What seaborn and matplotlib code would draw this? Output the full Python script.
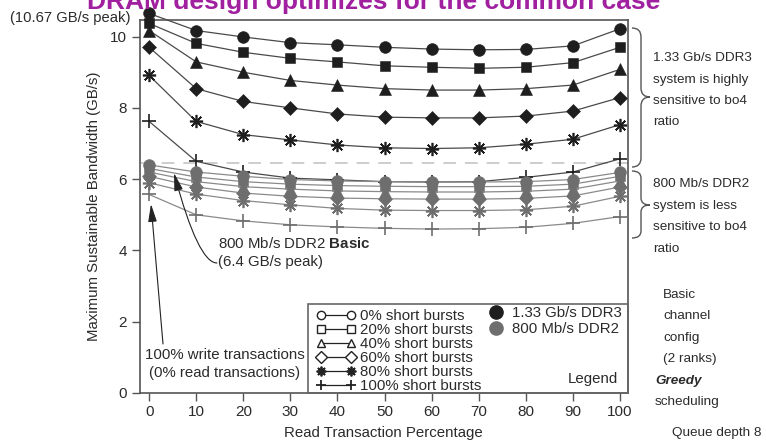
import matplotlib
matplotlib.use("Agg")
import matplotlib.pyplot as plt
from matplotlib.lines import Line2D
from matplotlib.patches import Rectangle, PathPatch
from matplotlib.path import Path
import seaborn as sns

# ---------------- data ----------------
read_pct = [0, 10, 20, 30, 40, 50, 60, 70, 80, 90, 100]

ddr3_0 = [10.65, 10.17, 9.99, 9.83, 9.77, 9.70, 9.65, 9.63, 9.64, 9.74, 10.22]
ddr3_20 = [10.37, 9.81, 9.56, 9.39, 9.29, 9.18, 9.14, 9.11, 9.14, 9.27, 9.70]
ddr3_40 = [10.17, 9.29, 9.00, 8.77, 8.64, 8.54, 8.50, 8.50, 8.54, 8.64, 9.08]
ddr3_60 = [9.70, 8.54, 8.18, 8.00, 7.83, 7.74, 7.72, 7.72, 7.77, 7.91, 8.29]
ddr3_80 = [8.91, 7.62, 7.25, 7.10, 6.96, 6.88, 6.86, 6.88, 6.98, 7.12, 7.53]
ddr3_100 = [7.62, 6.50, 6.20, 6.03, 5.98, 5.93, 5.92, 5.93, 6.05, 6.20, 6.57]

ddr2_0 = [6.40, 6.20, 6.08, 5.99, 5.95, 5.93, 5.92, 5.92, 5.93, 5.99, 6.19]
ddr2_20 = [6.30, 6.06, 5.93, 5.86, 5.82, 5.80, 5.79, 5.79, 5.80, 5.86, 6.08]
ddr2_40 = [6.20, 5.93, 5.79, 5.72, 5.67, 5.65, 5.64, 5.64, 5.66, 5.72, 5.95]
ddr2_60 = [6.08, 5.78, 5.61, 5.52, 5.47, 5.45, 5.44, 5.44, 5.46, 5.53, 5.78]
ddr2_80 = [5.90, 5.58, 5.40, 5.28, 5.18, 5.13, 5.12, 5.12, 5.14, 5.24, 5.52]
ddr2_100 = [5.57, 5.00, 4.83, 4.72, 4.66, 4.62, 4.60, 4.61, 4.65, 4.76, 4.95]

ddr2_peak_line = 6.45

burst_labels = ["0% short bursts", "20% short bursts", "40% short bursts",
                "60% short bursts", "80% short bursts", "100% short bursts"]
system_labels = ["1.33 Gb/s DDR3", "800 Mb/s DDR2"]
xticks = [0, 10, 20, 30, 40, 50, 60, 70, 80, 90, 100]
yticks = [0, 2, 4, 6, 8, 10]

title_text = "DRAM design optimizes for the common case"
xlabel_text = "Read Transaction Percentage"
ylabel_text = "Maximum Sustainable Bandwidth (GB/s)"

# ---------------- style ----------------
W, H = 766, 441
sns.set_theme(style="ticks")
plt.rcParams["font.family"] = ["Liberation Sans", "DejaVu Sans"]
plt.rcParams["mathtext.fontset"] = "custom"
plt.rcParams["mathtext.rm"] = "Liberation Sans"
plt.rcParams["mathtext.bf"] = "Liberation Sans:bold"
plt.rcParams["mathtext.it"] = "Liberation Sans:italic"

TXT = "#2b2b2b"
SPINE = "#555555"


def P(x, y):
    return (x / W, 1 - y / H)


fig = plt.figure(figsize=(W / 100, H / 100), dpi=100)
ax_l, ax_r, ax_t, ax_b = 139.5, 628.0, 19.5, 393.0
ax = fig.add_axes([ax_l / W, 1 - ax_b / H, (ax_r - ax_l) / W, (ax_b - ax_t) / H])

markers = ["o", "s", "^", "D", (8, 2, 0), "+"]
msizes = [8.5, 7.5, 8.5, 7, 9.5, 9.5]

ax.axhline(ddr2_peak_line, color="#c9c9c9", lw=1.3, dashes=(7, 5), zorder=1)

groups = [
    ([ddr3_0, ddr3_20, ddr3_40, ddr3_60, ddr3_80, ddr3_100], "#1e1e1e", "#4a4a4a", 3),
    ([ddr2_0, ddr2_20, ddr2_40, ddr2_60, ddr2_80, ddr2_100], "#6e6e6e", "#8a8a8a", 4),
]
for series, mcol, lcol, z in groups:
    for vals, mk, ms in zip(series, markers, msizes):
        lineart = mk in ("+",) or isinstance(mk, tuple)
        sns.lineplot(x=read_pct, y=vals, ax=ax, color=lcol, lw=0.9,
                     marker=mk, markersize=ms, markerfacecolor=mcol,
                     markeredgecolor=mcol,
                     markeredgewidth=1.2 if lineart else 0.4,
                     errorbar=None, clip_on=False, zorder=z, legend=False)

ax.set_xlim(-2.05, 101.7)
ax.set_ylim(0, 10.48)
ax.set_xticks(xticks)
ax.set_yticks(yticks)
ax.tick_params(axis="both", length=6, width=1, color=SPINE, labelsize=11,
               labelcolor=TXT, pad=3)
for sp in ax.spines.values():
    sp.set_visible(True)
    sp.set_color(SPINE)
    sp.set_linewidth(1.2)

ax.set_xlabel(xlabel_text, fontsize=10.8, color=TXT)
ax.set_ylabel(ylabel_text, fontsize=10.8, color=TXT)
ax.xaxis.set_label_coords(0.5, -0.088)
ax.yaxis.set_label_coords(-0.078, 0.5)

# ---------------- legend ----------------
def ax_frac(x, y):
    return ((x - ax_l) / (ax_r - ax_l), (ax_b - y) / (ax_b - ax_t))


lx, ly = ax_frac(308, 304)
ax.add_patch(Rectangle((lx, 0), 1 - lx, ly, transform=ax.transAxes, fill=False,
                       edgecolor="#666666", lw=1.2, clip_on=False, zorder=6))

h1 = []
for mk in markers:
    lineart = mk in ("+",) or isinstance(mk, tuple)
    h1.append(Line2D([], [], color="#222222", lw=0.9, marker=mk,
                     markersize=7 if lineart else 6,
                     markerfacecolor="#222222" if lineart else "white",
                     markeredgecolor="#222222",
                     markeredgewidth=1.3 if lineart else 1.0))
leg1 = ax.legend(h1, burst_labels, loc="upper left",
                 bbox_to_anchor=ax_frac(316, 309.5), frameon=False, numpoints=2,
                 handlelength=2.6, handletextpad=0.35, labelspacing=0.0,
                 borderpad=0, borderaxespad=0, fontsize=10.8, labelcolor=TXT)
ax.add_artist(leg1)

h2 = [Line2D([], [], ls="none", marker="o", markersize=9.5, color="#1e1e1e"),
      Line2D([], [], ls="none", marker="o", markersize=9.5, color="#6e6e6e")]
ax.legend(h2, system_labels, loc="upper left",
          bbox_to_anchor=ax_frac(488, 306), frameon=False, numpoints=1,
          handlelength=1.0, handletextpad=0.6, labelspacing=0.15,
          borderpad=0, borderaxespad=0, fontsize=10.8, labelcolor=TXT)
lgx, lgy = ax_frac(618, 379)
ax.text(lgx, lgy, "Legend", transform=ax.transAxes, ha="right", va="center",
        fontsize=10.8, color=TXT, zorder=7)

# ---------------- annotations ----------------
fig.text(*P(374, 9), title_text, color="#a020a0", fontsize=19,
         fontweight="bold", ha="center", va="baseline")

fig.text(*P(10, 18), "(10.67 GB/s peak)", fontsize=10.6, color=TXT,
         ha="left", va="center")

fig.text(*P(218, 244), "800 Mb/s DDR2 $\\mathbf{Basic}$", fontsize=10.8,
         color=TXT, ha="left", va="center")
fig.text(*P(218, 262), "(6.4 GB/s peak)", fontsize=10.8, color=TXT,
         ha="left", va="center")
fig.text(*P(225, 355), "100% write transactions", fontsize=10.8, color=TXT,
         ha="center", va="center")
fig.text(*P(225, 373), "(0% read transactions)", fontsize=10.8, color=TXT,
         ha="center", va="center")

arrow_kw = dict(arrowstyle="-|>,head_length=0.9,head_width=0.22",
                color="#222222", lw=0.8, mutation_scale=12,
                shrinkA=0, shrinkB=0)
ax.annotate("", xy=P(174, 173), xycoords="figure fraction",
            xytext=P(217, 263), textcoords="figure fraction",
            arrowprops=dict(connectionstyle="angle3,angleA=180,angleB=-75",
                            **arrow_kw), zorder=8)
ax.annotate("", xy=P(151, 204), xycoords="figure fraction",
            xytext=P(163, 344), textcoords="figure fraction",
            arrowprops=dict(connectionstyle="arc3,rad=0", **arrow_kw), zorder=8)


def brace(x0, y0, y1, ym, w, r=9):
    xm = x0 + w / 2
    pts = [P(x0, y0), P(xm, y0), P(xm, y0 + r),
           P(xm, ym - r),
           P(xm, ym), P(x0 + w, ym),
           P(xm, ym), P(xm, ym + r),
           P(xm, y1 - r),
           P(xm, y1), P(x0, y1)]
    codes = [Path.MOVETO, Path.CURVE3, Path.CURVE3, Path.LINETO,
             Path.CURVE3, Path.CURVE3, Path.CURVE3, Path.CURVE3,
             Path.LINETO, Path.CURVE3, Path.CURVE3]
    fig.patches.append(PathPatch(Path(pts, codes), transform=fig.transFigure,
                                 fill=False, edgecolor="#555555", lw=1.0))


brace(632, 28, 167, 97, 18)
brace(632, 171, 238, 205, 18, r=7)


def lines_at(x, ys, texts, **kw):
    for y, t in zip(ys, texts):
        fig.text(*P(x, y), t, fontsize=9.7, color=TXT, ha="left", va="center", **kw)


lines_at(653, [58, 80, 101, 122],
         ["1.33 Gb/s DDR3", "system is highly", "sensitive to bo4", "ratio"])
lines_at(653, [184, 206, 227, 249],
         ["800 Mb/s DDR2", "system is less", "sensitive to bo4", "ratio"])
lines_at(663, [295, 316, 338, 359], ["Basic", "channel", "config", "(2 ranks)"])
lines_at(655, [381], ["Greedy"], fontweight="bold", style="italic")
lines_at(655, [402], ["scheduling"])
lines_at(672, [433], ["Queue depth 8"])

fig.savefig("out.png", dpi=100)
